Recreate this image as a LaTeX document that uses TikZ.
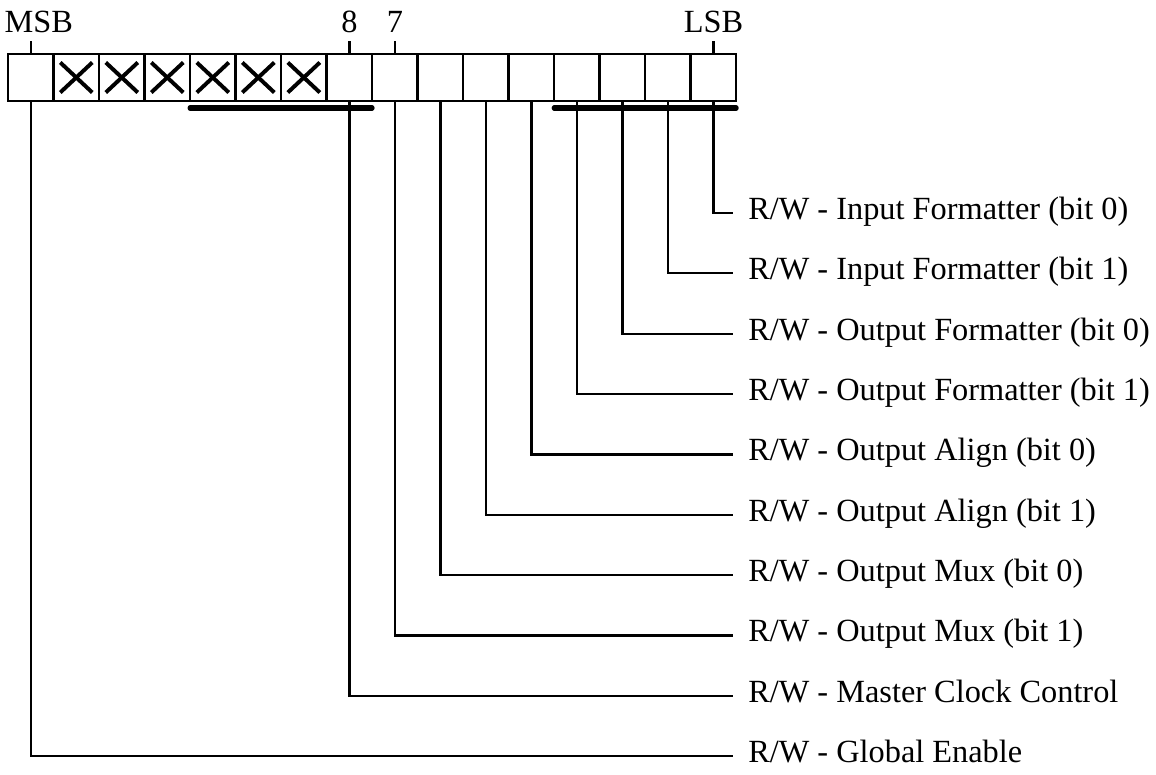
\documentclass[tikz,border=0pt]{standalone}
\usepackage{fontspec}
\setmainfont{Liberation Serif}
\usetikzlibrary{positioning}

\begin{document}
\begin{tikzpicture}[
                x=0.025cm, y=-0.025cm,
                node distance=0pt,
                font=\fontsize{23}{28}\selectfont,
                bitbox/.style={draw, line width=1.7pt, minimum width=1.1375cm, minimum height=1.175cm, inner sep=0pt, outer sep=0pt},
                unused/.style={bitbox, path picture={
                    \draw[line width=2.8pt] ([shift={(-0.4cm,0.375cm)}]path picture bounding box.center) -- ([shift={(0.4cm,-0.375cm)}]path picture bounding box.center);
                    \draw[line width=2.8pt] ([shift={(-0.4cm,-0.375cm)}]path picture bounding box.center) -- ([shift={(0.4cm,0.375cm)}]path picture bounding box.center);}},
                toplbl/.style={anchor=base, inner sep=0pt},
                field/.style={anchor=west, inner xsep=0.375cm, inner ysep=0pt, text height=1em, text depth=0.1em},
                wire/.style={line width=1.7pt},
                bus/.style={line width=3.6pt, line cap=round}
            ]
                \useasboundingbox (0,0) rectangle (1156,775);

                % register bits, MSB on the left
                \node[bitbox] (b1) at (30.75,77.5) {};
                \node[unused, right=of b1] (b2) {};
                \node[unused, right=of b2] (b3) {};
                \node[unused, right=of b3] (b4) {};
                \node[unused, right=of b4] (b5) {};
                \node[unused, right=of b5] (b6) {};
                \node[unused, right=of b6] (b7) {};
                \node[bitbox, right=of b7] (b8) {};
                \node[bitbox, right=of b8] (b9) {};
                \node[bitbox, right=of b9] (b10) {};
                \node[bitbox, right=of b10] (b11) {};
                \node[bitbox, right=of b11] (b12) {};
                \node[bitbox, right=of b12] (b13) {};
                \node[bitbox, right=of b13] (b14) {};
                \node[bitbox, right=of b14] (b15) {};
                \node[bitbox, right=of b15] (b16) {};

                \node[toplbl] (msb) at ([xshift=0.2cm, yshift=0.525cm]b1.north) {MSB};
                \node[toplbl] (hi) at ([yshift=0.525cm]b8.north) {8};
                \node[toplbl] (lo) at ([yshift=0.525cm]b9.north) {7};
                \node[toplbl] (lsb) at ([yshift=0.525cm]b16.north) {LSB};

                \draw[wire] (b1.north) -- ++(0,0.325cm);
                \draw[wire] (b8.north) -- ++(0,0.325cm);
                \draw[wire] (b9.north) -- ++(0,0.325cm);
                \draw[wire] (b16.north) -- ++(0,0.325cm);

                \draw[bus] ([yshift=-0.175cm]b5.south west) -- ([yshift=-0.175cm]b8.south east);
                \draw[bus] ([yshift=-0.175cm]b13.south west) -- ([yshift=-0.175cm]b16.south east);

                % field descriptions
                \node[field] (f1) at (733,213) {R/W - Input Formatter (bit 0)};
                \node[field] (f2) at (733,273.3) {R/W - Input Formatter (bit 1)};
                \node[field] (f3) at (733,333.7) {R/W - Output Formatter (bit 0)};
                \node[field] (f4) at (733,394) {R/W - Output Formatter (bit 1)};
                \node[field] (f5) at (733,454.3) {R/W - Output Align (bit 0)};
                \node[field] (f6) at (733,514.7) {R/W - Output Align (bit 1)};
                \node[field] (f7) at (733,575) {R/W - Output Mux (bit 0)};
                \node[field] (f8) at (733,635.3) {R/W - Output Mux (bit 1)};
                \node[field] (f9) at (733,695.7) {R/W - Master Clock Control};
                \node[field] (f10) at (733,756) {R/W - Global Enable};

                \draw[wire] (b16.south) |- (f1.west);
                \draw[wire] (b15.south) |- (f2.west);
                \draw[wire] (b14.south) |- (f3.west);
                \draw[wire] (b13.south) |- (f4.west);
                \draw[wire] (b12.south) |- (f5.west);
                \draw[wire] (b11.south) |- (f6.west);
                \draw[wire] (b10.south) |- (f7.west);
                \draw[wire] (b9.south) |- (f8.west);
                \draw[wire] (b8.south) |- (f9.west);
                \draw[wire] (b1.south) |- (f10.west);
            \end{tikzpicture}
\end{document}
